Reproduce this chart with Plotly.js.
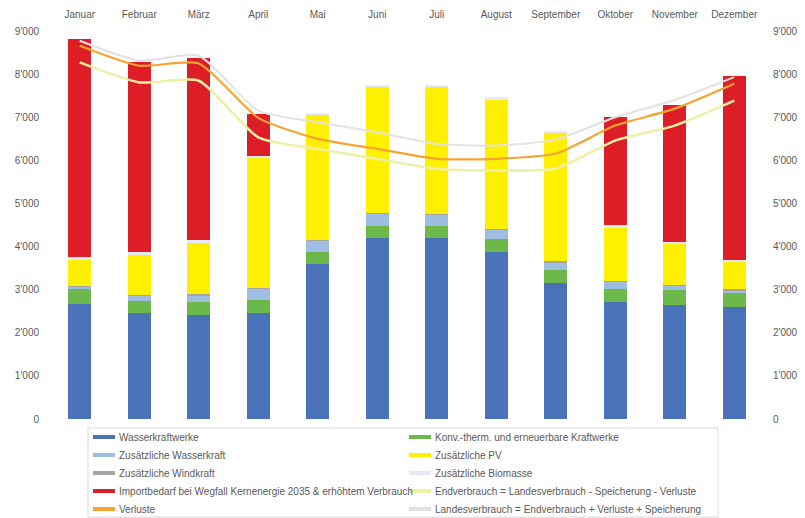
<!DOCTYPE html>
<html>
<head>
<meta charset="utf-8">
<script src="https://cdn.plot.ly/plotly-3.0.1.min.js"></script>
<style>html,body{margin:0;padding:0;background:#fff;}#chart{width:805px;height:518px;}</style>
</head>
<body>
<div id="chart"></div>
<script>
const months = ['Januar','Februar','März','April','Mai','Juni','Juli','August','September','Oktober','November','Dezember'];

const wasserkraftwerke = [2670, 2460, 2410, 2460, 3600, 4210, 4210, 3870, 3155, 2715, 2640, 2590];
const konvTherm        = [340, 280, 310, 295, 270, 260, 270, 310, 295, 310, 345, 325];
const zusWasserkraft   = [70, 130, 155, 270, 270, 300, 260, 215, 190, 155, 115, 75];
const zusWindkraft     = [15, 15, 15, 15, 15, 15, 15, 15, 15, 15, 15, 15];
const zusPV            = [586, 911, 1214, 3032, 2911, 2930, 2960, 3011, 2995, 1256, 952, 636];
const zusBiomasse      = [76, 70, 40, 40, 40, 40, 40, 40, 40, 40, 40, 56];
const importbedarf     = [5063, 4405, 4219, 964, 0, 0, 0, 0, 0, 2507, 3188, 4266];

const verluste         = [8657, 8194, 8248, 6984, 6498, 6266, 6035, 6035, 6157, 6806, 7199, 7778];
const endverbrauch     = [8271, 7808, 7847, 6535, 6266, 6035, 5803, 5764, 5810, 6458, 6806, 7384];
const landesverbrauch  = [8773, 8310, 8426, 7153, 6882, 6650, 6382, 6343, 6480, 7000, 7400, 7930];

const yTicks = [0, 1000, 2000, 3000, 4000, 5000, 6000, 7000, 8000, 9000];

const names = {
  wk: 'Wasserkraftwerke',
  kt: 'Konv.-therm. und erneuerbare Kraftwerke',
  zw: 'Zusätzliche Wasserkraft',
  pv: 'Zusätzliche PV',
  wi: 'Zusätzliche Windkraft',
  bi: 'Zusätzliche Biomasse',
  im: 'Importbedarf bei Wegfall Kernenergie 2035 & erhöhtem Verbrauch',
  ev: 'Endverbrauch = Landesverbrauch - Speicherung - Verluste',
  ve: 'Verluste',
  lv: 'Landesverbrauch = Endverbrauch + Verluste + Speicherung'
};
const colors = {
  wk: '#4A72B8', kt: '#6DB84B', zw: '#9DBDE3', pv: '#FFF000', wi: '#A5A5A5',
  bi: '#E6EAF2', im: '#DD1E26', ev: '#EDF0A6', ve: '#F5A431', lv: '#E2E2E2'
};
// legend order: two columns, five rows
const legendCol1 = ['wk', 'zw', 'wi', 'im', 've'];
const legendCol2 = ['kt', 'pv', 'bi', 'ev', 'lv'];

function bar(key, vals) {
  return {type: 'bar', x: months, y: vals, name: names[key], showlegend: false,
          marker: {color: colors[key], line: {width: 0}}};
}
function line(key, vals, w, yax) {
  return {type: 'scatter', mode: 'lines', x: months, y: vals, name: names[key], yaxis: yax || 'y',
          showlegend: false, line: {color: colors[key], width: w, shape: 'spline', smoothing: 0.6}};
}

const data = [
  bar('wk', wasserkraftwerke), bar('kt', konvTherm), bar('zw', zusWasserkraft),
  bar('wi', zusWindkraft), bar('pv', zusPV), bar('bi', zusBiomasse), bar('im', importbedarf),
  line('lv', landesverbrauch, 2, 'y2'), line('ev', endverbrauch, 2.5), line('ve', verluste, 2.2)
];

// pixel -> paper helpers for the hand-built legend (plot area: x 50..764, y 31..419)
const PL = 50, PW = 714, PB = 419, PH = 388;
const px = v => (v - PL) / PW;
const py = v => (PB - v) / PH;

const shapes = [{type: 'rect', xref: 'paper', yref: 'paper', x0: px(88), x1: px(718), y0: py(428), y1: py(517),
                 line: {color: '#D9D9D9', width: 1}, fillcolor: 'rgba(0,0,0,0)'}];
const annotations = [];
const rowY = [437, 455, 473, 491, 509];
[[legendCol1, 93, 117], [legendCol2, 409, 433]].forEach(([keys, sx, tx]) => {
  keys.forEach((k, i) => {
    shapes.push({type: 'line', xref: 'paper', yref: 'paper', x0: px(sx), x1: px(sx + 22),
                 y0: py(rowY[i]), y1: py(rowY[i]), line: {color: colors[k], width: 4}});
    annotations.push({xref: 'paper', yref: 'paper', x: px(tx), y: py(rowY[i]), xanchor: 'left',
                      yanchor: 'middle', showarrow: false, text: names[k],
                      font: {family: 'Liberation Sans, Arial, sans-serif', size: 10, color: '#595959'}});
  });
});

const axFont = {family: 'Liberation Sans, Arial, sans-serif', size: 10, color: '#595959'};
const layout = {
  width: 805, height: 518,
  margin: {l: 50, r: 41, t: 31, b: 99},
  barmode: 'stack', bargap: 0.62,
  separators: ".'",
  paper_bgcolor: '#fff', plot_bgcolor: '#fff',
  font: axFont,
  showlegend: false,
  xaxis: {side: 'top', type: 'category', range: [-0.5, 11.5], showgrid: false, zeroline: false,
          showline: false, ticks: '', tickfont: axFont, ticklabelstandoff: 10, fixedrange: true},
  yaxis: {range: [0, 9000], tickvals: yTicks, tickformat: ',d', showgrid: false, zeroline: false,
          showline: false, ticks: '', tickfont: axFont, ticklabelstandoff: 10, fixedrange: true},
  yaxis2: {range: [0, 9000], tickvals: yTicks, tickformat: ',d', overlaying: 'y', side: 'right',
           showgrid: false, zeroline: false, showline: false, ticks: '', tickfont: axFont,
           ticklabelstandoff: 8, fixedrange: true},
  shapes: shapes,
  annotations: annotations
};

Plotly.newPlot('chart', data, layout, {displayModeBar: false});
</script>
</body>
</html>
